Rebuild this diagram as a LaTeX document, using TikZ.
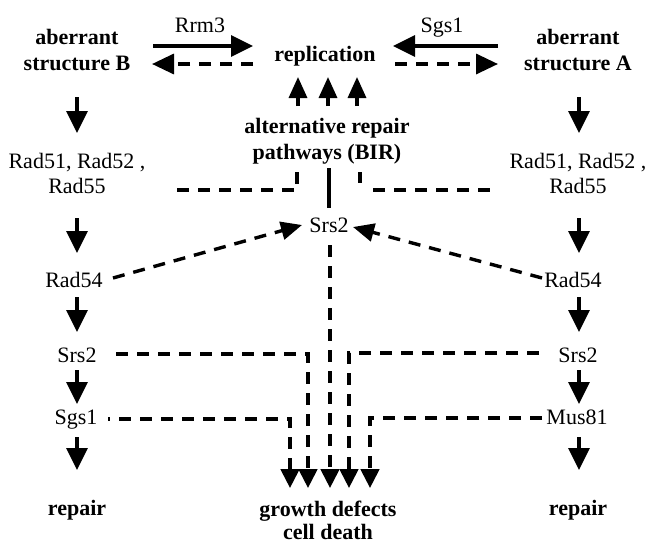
\documentclass[tikz,border=0pt]{standalone}
\usepackage{fontspec}
\setmainfont{Liberation Serif}
\usetikzlibrary{arrows.meta}
\begin{document}
\begin{tikzpicture}[x=1pt,y=-1pt,
  txt/.style={inner sep=0pt, anchor=base, font=\fontsize{22}{25}\selectfont},
  btxt/.style={inner sep=0pt, anchor=base, font=\fontsize{22}{25}\selectfont\bfseries},
  ln/.style={line width=3.4pt},
  dsh/.style={line width=3.4pt, dash pattern=on 12pt off 9pt},
  arr/.style={ln, -{Triangle[length=22pt,width=21pt]}},
  uparr/.style={ln, -{Triangle[length=21pt,width=18pt]}},
  botarr/.style={dsh, -{Triangle[length=19pt,width=18.5pt]}},
  darr/.style={dsh, -{Triangle[length=21pt,width=18pt]}},
]
\useasboundingbox (0,0) rectangle (647,544);

% ---- text ----
\node[txt]  (rrm3) at (200,32) {Rrm3};
\node[txt]  (sgsT) at (442,32) {Sgs1};
\node[btxt] (abB1) at (77,44.5) {aberrant};
\node[btxt] (abB2) at (77,70.5) {structure B};
\node[btxt] (abA1) at (578,44.5) {aberrant};
\node[btxt] (abA2) at (578,70.5) {structure A};
\node[btxt] (repl) at (325,61) {replication};
\node[btxt] (alt1) at (327,133) {alternative repair};
\node[btxt] (alt2) at (327,159) {pathways (BIR)};
\node[txt]  (radL1) at (77,168) {Rad51, Rad52 ,};
\node[txt]  (radL2) at (77,193) {Rad55};
\node[txt]  (radR1) at (578,168) {Rad51, Rad52 ,};
\node[txt]  (radR2) at (578,193) {Rad55};
\node[txt]  (srsM) at (329,232) {Srs2};
\node[txt]  (r54L) at (74,287) {Rad54};
\node[txt]  (r54R) at (573,287) {Rad54};
\node[txt]  (srsL) at (77,362) {Srs2};
\node[txt]  (srsR) at (578,362) {Srs2};
\node[txt]  (sgsL) at (76,424) {Sgs1};
\node[txt]  (musR) at (577,424) {Mus81};
\node[btxt] (repL) at (77,515) {repair};
\node[btxt] (repR) at (578,515) {repair};
\node[btxt] (gro1) at (328,516) {growth defects};
\node[btxt] (gro2) at (328,539) {cell death};

% ---- coordinates ----
\coordinate (rrmS) at (153,46);  \coordinate (rrmE) at (253,46);
\coordinate (bkLs) at (253,64);  \coordinate (bkLe) at (152,64);
\coordinate (sgsS) at (498,46);  \coordinate (sgsE) at (393,46);
\coordinate (bkRs) at (395,64);  \coordinate (bkRe) at (498,64);
\foreach \x/\n in {298/a,328/b,357/c}{
  \coordinate (up\n s) at (\x,106); \coordinate (up\n e) at (\x,77);
}
\coordinate (birL0) at (177,190); \coordinate (birL1) at (297,190); \coordinate (birL2) at (297,172);
\coordinate (birR0) at (490,190); \coordinate (birR1) at (373,190);
\coordinate (birR2) at (360,172); \coordinate (birR3) at (360,183);
\coordinate (birM0) at (329,168); \coordinate (birM1) at (329,208);
\coordinate (r54Ls) at (113,278); \coordinate (r54Le) at (302,225);
\coordinate (r54Rs) at (542,278); \coordinate (r54Re) at (353,227);
\coordinate (gdA) at (290,488); \coordinate (gdB) at (308,488); \coordinate (gdC) at (330,488);
\coordinate (gdD) at (349,488); \coordinate (gdE) at (370,488);

% ---- top arrows ----
\draw[darr,-{Triangle[length=22pt,width=20pt]}] (bkLs) -- (bkLe);
\draw[arr] (rrmS) -- (rrmE);
\draw[arr] (sgsS) -- (sgsE);
\draw[darr,-{Triangle[length=22pt,width=20pt]}] (bkRs) -- (bkRe);
\foreach \n in {a,b,c}{ \draw[uparr] (up\n s) -- (up\n e); }

% ---- column arrows ----
\foreach \x in {77,579}{
  \draw[arr] (\x,97) -- (\x,133);
  \draw[arr] (\x,218) -- (\x,253);
  \draw[arr] (\x,297) -- (\x,332);
  \draw[arr] (\x,370) -- (\x,404);
  \draw[arr] (\x,437) -- (\x,470);
}

% ---- BIR connectors ----
\draw[dsh] (birL0) -- (birL1) -- (birL2);
\draw[dsh] (birR2) -- (birR3) (birR1) -- (birR0);
\draw[ln] (birM0) -- (birM1);

% ---- Rad54 -> Srs2 ----
\draw[darr] (r54Ls) -- (r54Le);
\draw[darr] (r54Rs) -- (r54Re);

% ---- to growth defects ----
\draw[botarr,dash phase=10pt] (108,419) -- (290,419) -- (gdA);
\draw[botarr] (116,354) -- (308,354) -- (gdB);
\draw[botarr] (330,245) -- (gdC);
\draw[botarr] (539,353) -- (349,353) -- (gdD);
\draw[botarr] (542,418) -- (370,418) -- (gdE);
\end{tikzpicture}
\end{document}
